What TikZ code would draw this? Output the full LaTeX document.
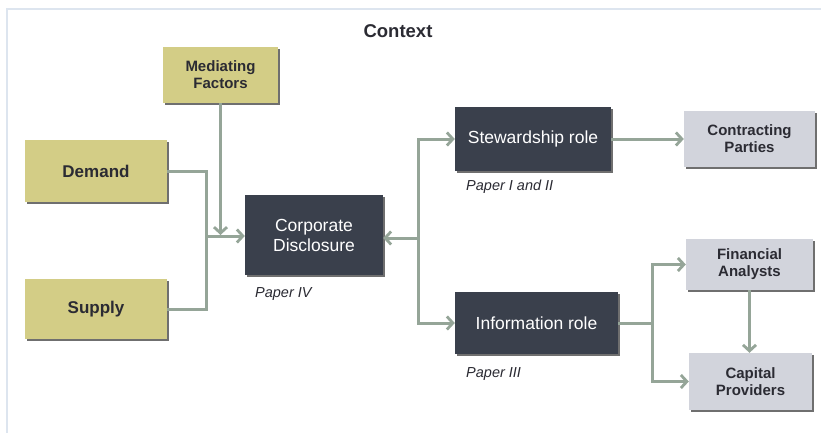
\documentclass[tikz,border=0pt]{standalone}
\usepackage{fontspec}
\setmainfont{Liberation Sans}
\usetikzlibrary{arrows.meta,shadows}
\definecolor{olive}{HTML}{D3CD86}
\definecolor{darkbox}{HTML}{3A404C}
\definecolor{lightbox}{HTML}{D2D4DC}
\definecolor{conn}{HTML}{95A598}
\definecolor{frame}{HTML}{DDE5EF}
\definecolor{txt}{HTML}{2B2B33}
\tikzset{
  boxbase/.style={rectangle, inner sep=0pt, align=center,
    drop shadow={shadow xshift=2pt, shadow yshift=-2pt, opacity=0.75, fill=black!75}},
  olivebox/.style={boxbase, fill=olive, text=txt, font=\bfseries},
  darkbx/.style={boxbase, fill=darkbox, text=white, font=\fontsize{17.5}{20}\selectfont},
  lightbx/.style={boxbase, fill=lightbox, text=txt, font=\bfseries\fontsize{15}{17}\selectfont},
  conline/.style={draw=conn, line width=3pt},
  arr/.style={conline, -{Straight Barb[length=6pt,width=13pt,line width=2.8pt]}},
  paper/.style={anchor=west, inner sep=0pt, font=\itshape\fontsize{14.5}{16}\selectfont, text=txt}
}
\begin{document}
\begin{tikzpicture}[x=1pt,y=-1pt]
\useasboundingbox (0,0) rectangle (821,433);
\fill[white] (0,0) rectangle (821,433);
\draw[frame, line width=2.2pt] (7,433) -- (7,9) -- (821,9);
\node[font=\bfseries\fontsize{18.5}{20}\selectfont, text=txt] (ctx) at (398,31) {Context};

\node[olivebox, minimum width=115pt, minimum height=56pt, font=\bfseries\fontsize{15}{17}\selectfont] (med) at (220.5,75) {Mediating\\Factors};
\node[olivebox, minimum width=142pt, minimum height=62pt, font=\bfseries\fontsize{17}{19}\selectfont] (dem) at (96,171) {Demand};
\node[olivebox, minimum width=142pt, minimum height=60pt, font=\bfseries\fontsize{17}{19}\selectfont] (sup) at (96,309) {Supply};

\node[darkbx, minimum width=138pt, minimum height=80pt] (cd) at (314,235) {Corporate\\Disclosure};
\node[darkbx, minimum width=156pt, minimum height=64pt] (stew) at (533,139) {Stewardship role};
\node[darkbx, minimum width=163pt, minimum height=62pt] (info) at (536.5,323) {Information role};

\node[lightbx, minimum width=131pt, minimum height=55pt] (contr) at (749.5,139) {Contracting\\Parties};
\node[lightbx, minimum width=127pt, minimum height=51pt] (fin) at (749.5,264.5) {Financial\\Analysts};
\node[lightbx, minimum width=123pt, minimum height=57pt] (cap) at (750.5,381.5) {Capital\\Providers};

\node[paper] (p4) at (255,294) {Paper IV};
\node[paper] (p12) at (466,187) {Paper I and II};
\node[paper] (p3) at (466,374) {Paper III};

\coordinate (jl) at (206,236);
\coordinate (jr) at (418,238);
\coordinate (ji) at (652,323);

\draw[conline] (dem.east) -| (jl);
\draw[conline] (sup.east) -| (jl);
\draw[arr] (jl) -- (cd.west |- jl);
\draw[arr, shorten >=1pt] (med.south) -- (med.south |- jl);

\draw[arr] (jr) -- (cd.east |- jr);
\draw[arr] (jr) |- (stew.west);
\draw[arr] (jr) |- (info.west);
\draw[conline] (jr |- stew.west) -- (jr |- info.west);

\draw[arr] (stew.east) -- (contr.west |- stew.east);

\draw[conline] (info.east) -- (ji);
\draw[arr] (ji) |- (fin.west);
\draw[arr] (ji) |- (cap.west);
\draw[arr] (fin.south) -- (fin.south |- cap.north);
\end{tikzpicture}
\end{document}
